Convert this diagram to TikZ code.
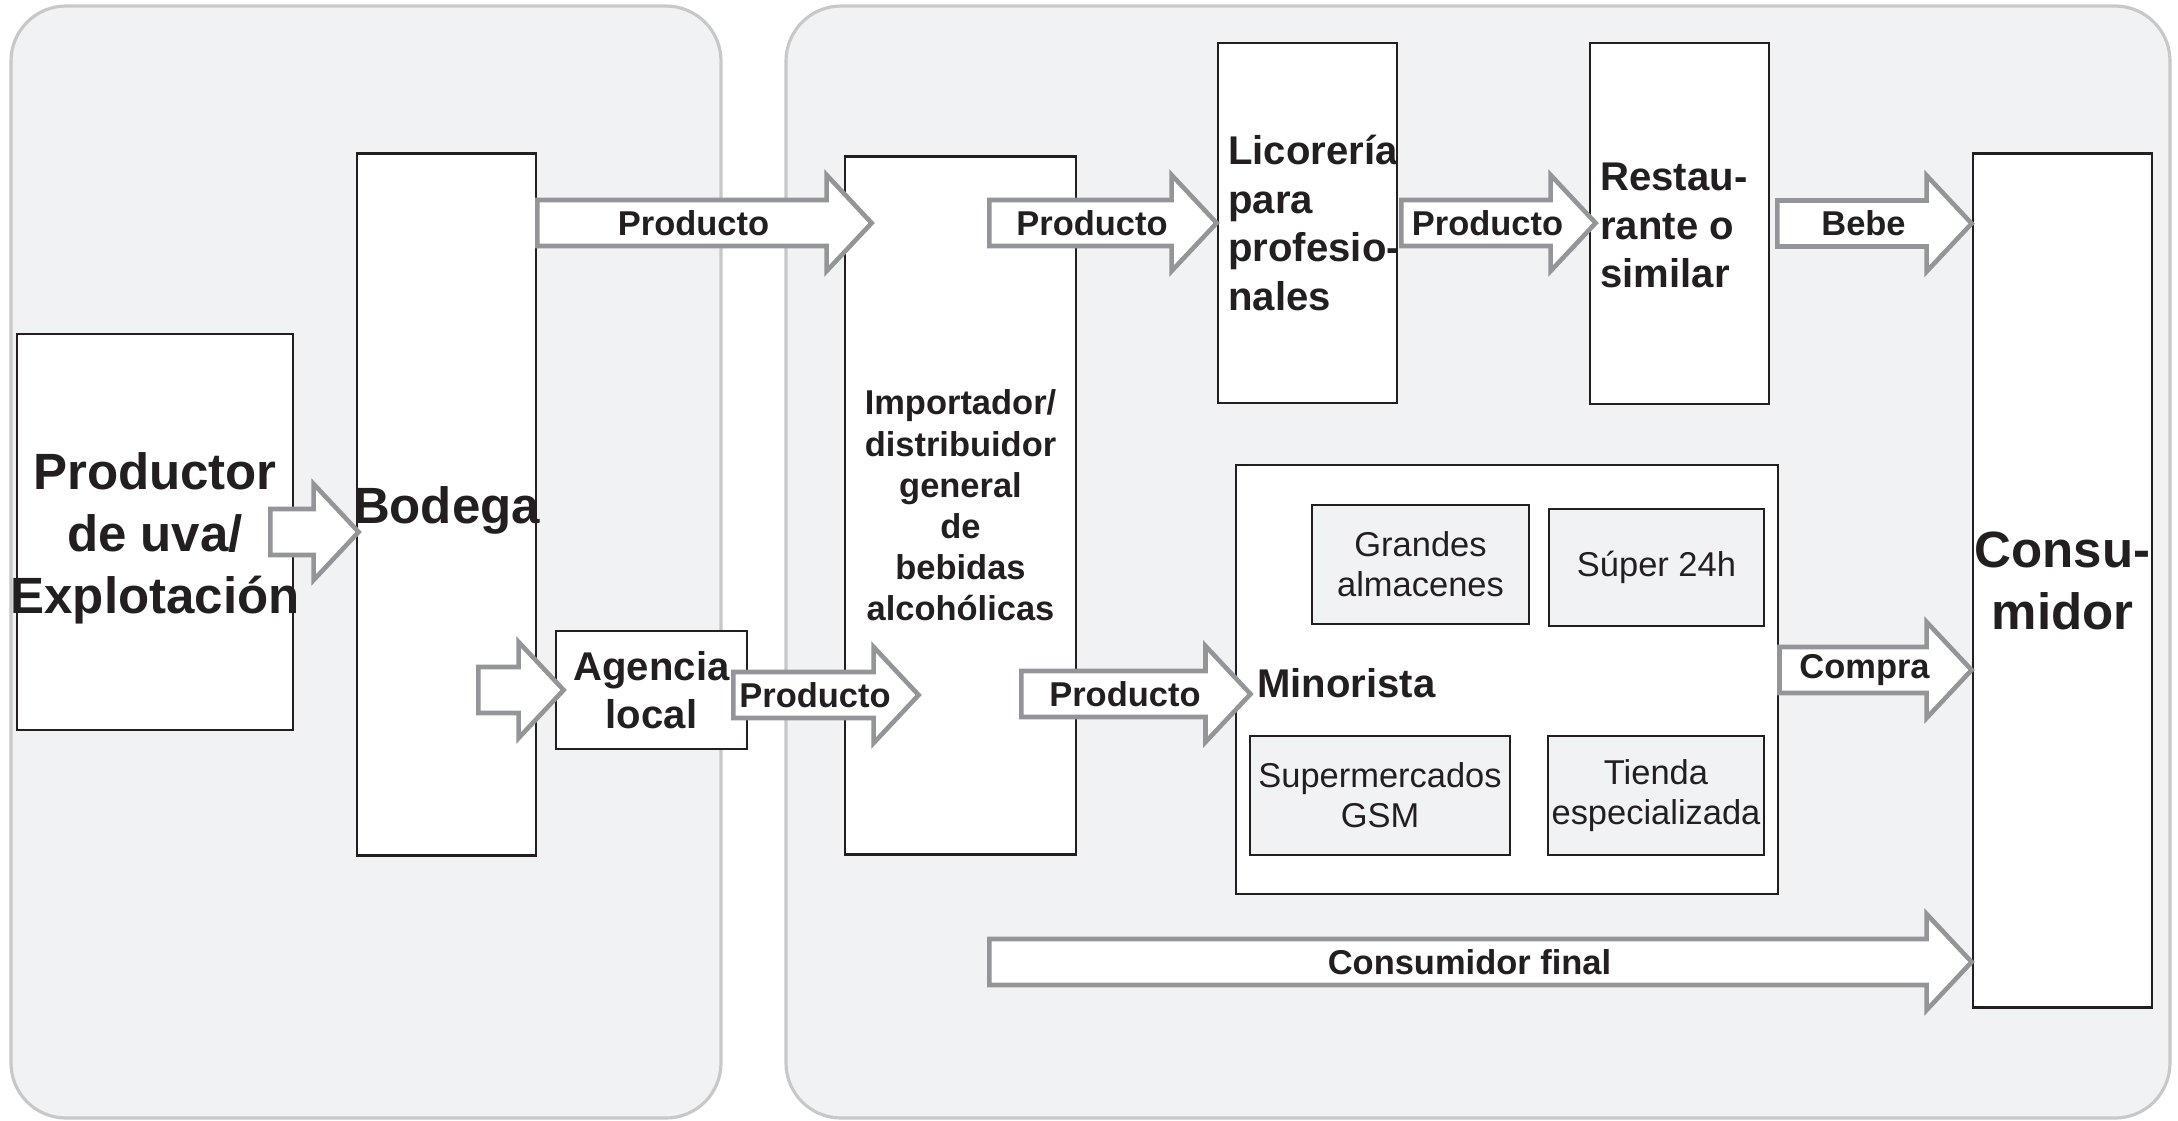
\documentclass[tikz,border=0pt]{standalone}
\usepackage{fontspec}
\setmainfont{Liberation Sans}
\usetikzlibrary{calc}

\definecolor{panelgris}{HTML}{F1F2F4}
\definecolor{bordegris}{HTML}{C7C8CA}
\definecolor{flechagris}{HTML}{939598}
\definecolor{tinta}{HTML}{231F20}

\tikzset{
  panel/.style={fill=panelgris, draw=bordegris, line width=0.9pt, rounded corners=0.55cm},
  caja/.style={draw=tinta, fill=white, line width=0.75pt, inner sep=0pt, text=tinta, align=center},
  cajita/.style={caja, fill=panelgris},
  flecha/.style={draw=flechagris, fill=white, line width=1.3pt},
  grande/.style={font=\bfseries\fontsize{14.5}{17.6}\selectfont},
  media/.style={font=\bfseries\fontsize{11.4}{13.8}\selectfont},
  chica/.style={font=\bfseries\fontsize{9.8}{11.7}\selectfont, text=tinta, inner sep=0pt},
  fina/.style={font=\fontsize{9.8}{11.4}\selectfont},
  texto/.style={text=tinta, inner sep=0pt, align=left, anchor=west},
  centro/.style={text=tinta, inner sep=0pt, align=center},
}

% block arrow: name, tail, tip, label
\newcommand{\flecha}[4]{%
  \draw[flecha] let \p1=#2, \p2=#3 in
    (\x1,\y1+6.54pt) -- (\x2-12.8pt,\y1+6.54pt) -- (\x2-12.8pt,\y1+13.66pt) -- (\x2,\y1)
    -- (\x2-12.8pt,\y1-13.66pt) -- (\x2-12.8pt,\y1-6.54pt) -- (\x1,\y1-6.54pt) -- cycle
    (0.5*\x1+0.5*\x2-3.13pt,\y1) node[chica] (#1) {#4};}

\begin{document}
\begin{tikzpicture}[x=0.01cm, y=-0.01cm]
  \useasboundingbox (0,0) rectangle (2178,1120);
  % zonas
  \draw[panel] (11,6) rectangle (721,1118);
  \draw[panel] (786,6) rectangle (2170,1118);

  % cajas
  \node[caja, minimum width=2.76cm, minimum height=3.96cm] (prod) at (155,532) {};
  \node[caja, minimum width=1.79cm, minimum height=7.01cm] (bod) at (446.5,504.5) {};
  \node[caja, chica, minimum width=2.31cm, minimum height=6.97cm] (imp) at (960.5,505.5) {Importador/\\distribuidor\\general\\de\\bebidas\\alcohólicas};
  \node[caja, minimum width=1.79cm, minimum height=3.6cm] (lic) at (1307.5,223) {};
  \node[caja, minimum width=1.79cm, minimum height=3.61cm] (rest) at (1679.5,223.5) {};
  \node[caja, grande, minimum width=1.79cm, minimum height=8.53cm] (cons) at (2062.5,580.5) {Consu-\\midor};
  \node[caja, minimum width=5.42cm, minimum height=4.29cm] (min) at (1507,679.5) {};
  \node[cajita, fina, minimum width=2.17cm, minimum height=1.19cm] (gran) at (1420.5,564.5) {Grandes\\almacenes};
  \node[cajita, fina, minimum width=2.15cm, minimum height=1.17cm] (super) at (1656.5,567.5) {Súper 24h};
  \node[cajita, fina, minimum width=2.6cm, minimum height=1.19cm] (gsm) at (1380,795.5) {Supermercados\\GSM};
  \node[cajita, fina, minimum width=2.16cm, minimum height=1.19cm] (tienda) at (1656,795.5) {Tienda\\especializada};
  \node[caja, media, minimum width=1.91cm, minimum height=1.18cm] (age) at (651.5,690) {Agencia\\local};

  % flechas
  \flecha{fA}{($(prod.east)+(-24,0)$)}{($(bod.west |- prod.east)+(3,0)$)}{}
  \flecha{fB}{(bod.east |- lic.west)}{($(imp.west |- lic.west)+(28,0)$)}{Producto}
  \flecha{fC}{($(imp.east |- lic.west)+(-88,0)$)}{(lic.west)}{Producto}
  \flecha{fD}{($(lic.east)+(3,0)$)}{($(rest.west)+(7,0)$)}{Producto}
  \flecha{fE}{($(rest.east)+(7,0)$)}{(cons.west |- rest.east)}{Bebe}
  \flecha{fF}{($(bod.east |- age.west)+(-59,0)$)}{($(age.west)+(9,0)$)}{}
  \flecha{fG}{($(age.east)+(-15,5)$)}{($(imp.west |- age.east)+(75,5)$)}{Producto}
  \flecha{fH}{($(imp.east |- 0,694)+(-56,0)$)}{($(min.west |- 0,694)+(16,0)$)}{Producto}
  \flecha{fI}{(min.east |- 0,670)}{(cons.west |- 0,670)}{Compra}
  \flecha{fJ}{($(imp.east |- 0,962)+(-88,0)$)}{(cons.west |- 0,962)}{Consumidor final}

  % textos
  \node[centro, grande] (prodT) at ($(prod.center)+(0,6)$) {Productor\\de uva/\\Explotación};
  \node[centro, grande] (bodT) at ($(bod.center)+(0,6)$) {Bodega};
  \node[texto, media] (licT) at ($(lic.west)+(11,0)$) {Licorería\\para\\profesio-\\nales};
  \node[texto, media] (restT) at ($(rest.west)+(11,2)$) {Restau-\\rante o\\similar};
  \node[texto, media] (minT) at ($(min.west)+(22,4)$) {Minorista};
\end{tikzpicture}
\end{document}
